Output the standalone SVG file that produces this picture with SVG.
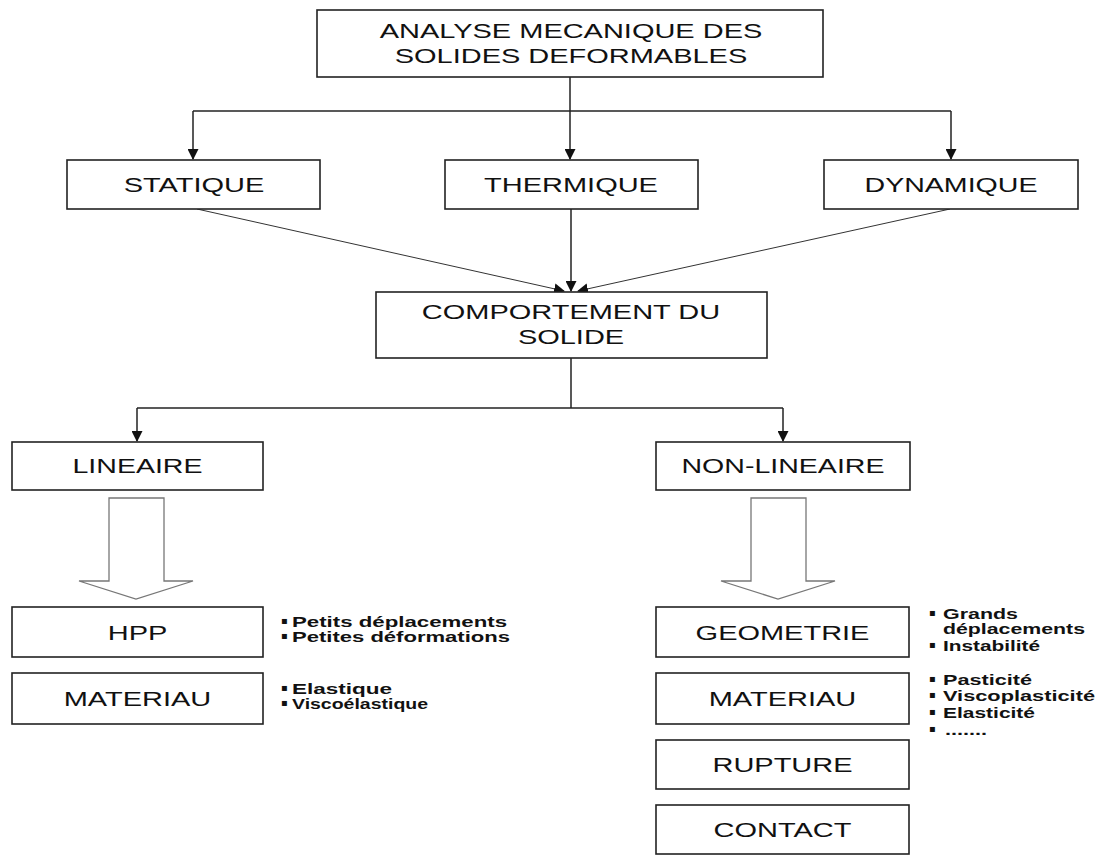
<svg xmlns="http://www.w3.org/2000/svg" width="1096" height="855" viewBox="0 0 1096 855">
<style>
.box{fill:#fff;stroke:#222;stroke-width:1.6}
.t{font-family:"Liberation Sans",Arial,sans-serif;font-size:21px;fill:#111;text-anchor:middle}
.b{font-family:"Liberation Sans",Arial,sans-serif;font-size:15px;font-weight:bold;fill:#111}
.bl{font-family:"DejaVu Sans",sans-serif;font-size:10px;fill:#111}
.c{fill:none;stroke:#222;stroke-width:1.5}
.d{fill:none;stroke:#333;stroke-width:1}
.blk{fill:#fff;stroke:#777;stroke-width:1.3}
</style>
<defs>
<marker id="ah" markerWidth="11" markerHeight="11" refX="10" refY="5.5" orient="auto" markerUnits="userSpaceOnUse" viewBox="0 0 11 11">
<path d="M0,0 L11,5.5 L0,11 z" fill="#111"/>
</marker>
</defs>
<rect width="1096" height="855" fill="#fff"/>
<g id="connectors">
<path class="c" d="M570,77 V111"/>
<path class="c" d="M193,111 H951"/>
<path class="c" d="M193,111 V159" marker-end="url(#ah)"/>
<path class="c" d="M570,111 V159" marker-end="url(#ah)"/>
<path class="c" d="M951,111 V159" marker-end="url(#ah)"/>
<path class="c" d="M571,209 V291" marker-end="url(#ah)"/>
<path class="d" d="M197,209 L564,291" marker-end="url(#ah)"/>
<path class="d" d="M950,209 L578,291" marker-end="url(#ah)"/>
<path class="c" d="M571,358 V408"/>
<path class="c" d="M137,408 H783"/>
<path class="c" d="M137,408 V441" marker-end="url(#ah)"/>
<path class="c" d="M783,408 V441" marker-end="url(#ah)"/>
<path class="blk" d="M109,498 H164 V581 H193 L136,599 L79,581 H109 Z"/>
<path class="blk" d="M751,498 H806 V581 H835 L778,599 L721,581 H751 Z"/>
</g>
<g id="n-analyse"><rect class="box" x="317" y="10" width="506" height="67"/>
<text class="t" transform="translate(571 38) scale(1.38 1)">ANALYSE MECANIQUE DES</text>
<text class="t" transform="translate(571 63) scale(1.38 1)">SOLIDES DEFORMABLES</text></g>
<g id="n-statique"><rect class="box" x="67" y="160" width="253" height="49"/>
<text class="t" transform="translate(194 192) scale(1.38 1)">STATIQUE</text></g>
<g id="n-thermique"><rect class="box" x="445" y="160" width="253" height="49"/>
<text class="t" transform="translate(571 192) scale(1.38 1)">THERMIQUE</text></g>
<g id="n-dynamique"><rect class="box" x="824" y="160" width="254" height="49"/>
<text class="t" transform="translate(951 192) scale(1.36 1)">DYNAMIQUE</text></g>
<g id="n-comportement"><rect class="box" x="376" y="292" width="391" height="66"/>
<text class="t" transform="translate(571 319) scale(1.38 1)">COMPORTEMENT DU</text>
<text class="t" transform="translate(571 344) scale(1.38 1)">SOLIDE</text></g>
<g id="n-lineaire"><rect class="box" x="12" y="442" width="251" height="48"/>
<text class="t" transform="translate(137.5 473) scale(1.36 1)">LINEAIRE</text></g>
<g id="n-nonlineaire"><rect class="box" x="656" y="442" width="254" height="48"/>
<text class="t" transform="translate(783 473) scale(1.36 1)">NON-LINEAIRE</text></g>
<g id="n-hpp"><rect class="box" x="12" y="607" width="251" height="50"/>
<text class="t" transform="translate(137.5 640) scale(1.38 1)">HPP</text></g>
<g id="n-materiau-l"><rect class="box" x="12" y="673" width="251" height="51"/>
<text class="t" transform="translate(137.5 706) scale(1.38 1)">MATERIAU</text></g>
<g id="n-geometrie"><rect class="box" x="656" y="607" width="253" height="50"/>
<text class="t" transform="translate(782.5 640) scale(1.38 1)">GEOMETRIE</text></g>
<g id="n-materiau-r"><rect class="box" x="656" y="673" width="253" height="51"/>
<text class="t" transform="translate(782.5 706) scale(1.38 1)">MATERIAU</text></g>
<g id="n-rupture"><rect class="box" x="656" y="740" width="253" height="49"/>
<text class="t" transform="translate(782.5 772) scale(1.38 1)">RUPTURE</text></g>
<g id="n-contact"><rect class="box" x="656" y="805" width="253" height="49"/>
<text class="t" transform="translate(782.5 837) scale(1.38 1)">CONTACT</text></g>
<g id="notes-hpp">
<text class="bl" x="281" y="624">▪</text><text class="b" x="292" y="627" textLength="215" lengthAdjust="spacingAndGlyphs">Petits déplacements</text>
<text class="bl" x="281" y="639">▪</text><text class="b" x="292" y="642" textLength="218" lengthAdjust="spacingAndGlyphs">Petites déformations</text>
</g>
<g id="notes-materiau-l">
<text class="bl" x="281" y="691">▪</text><text class="b" x="292" y="694" textLength="100" lengthAdjust="spacingAndGlyphs">Elastique</text>
<text class="bl" x="281" y="706">▪</text><text class="b" x="292" y="709" textLength="136" lengthAdjust="spacingAndGlyphs">Viscoélastique</text>
</g>
<g id="notes-geometrie">
<text class="bl" x="929" y="616">▪</text><text class="b" x="943" y="619" textLength="75" lengthAdjust="spacingAndGlyphs">Grands</text>
<text class="b" x="943" y="634" textLength="142" lengthAdjust="spacingAndGlyphs">déplacements</text>
<text class="bl" x="929" y="648">▪</text><text class="b" x="943" y="651" textLength="97" lengthAdjust="spacingAndGlyphs">Instabilité</text>
</g>
<g id="notes-materiau-r">
<text class="bl" x="929" y="682">▪</text><text class="b" x="943" y="685" textLength="89" lengthAdjust="spacingAndGlyphs">Pasticité</text>
<text class="bl" x="929" y="698">▪</text><text class="b" x="943" y="701" textLength="152" lengthAdjust="spacingAndGlyphs">Viscoplasticité</text>
<text class="bl" x="929" y="715">▪</text><text class="b" x="943" y="718" textLength="92" lengthAdjust="spacingAndGlyphs">Elasticité</text>
<text class="bl" x="929" y="732">▪</text><text class="b" x="945" y="735" textLength="42" lengthAdjust="spacingAndGlyphs">.......</text>
</g>
</svg>
